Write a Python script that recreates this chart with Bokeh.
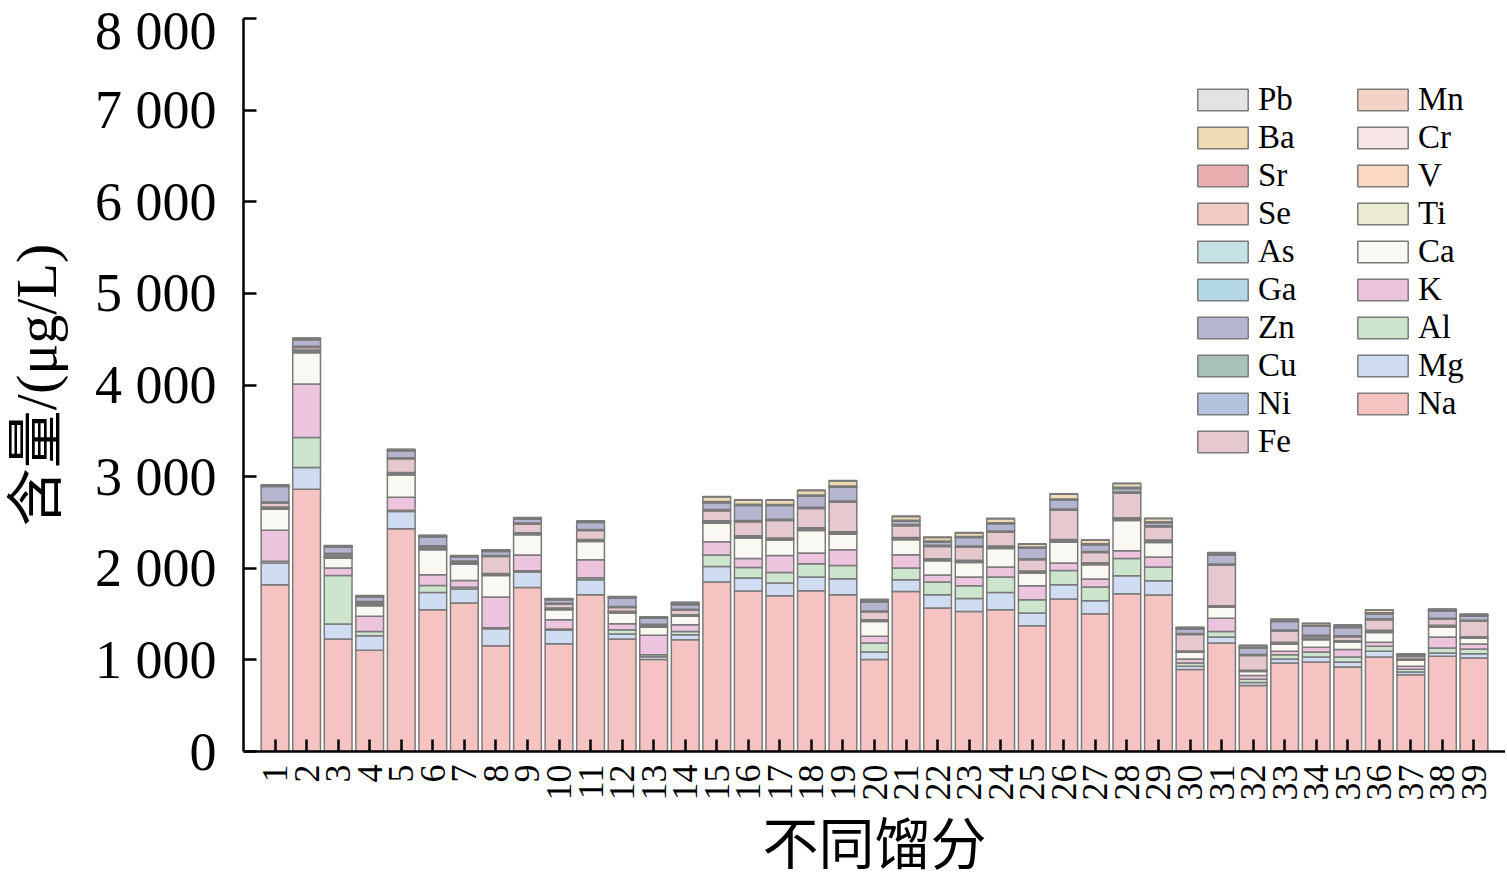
import math
from bokeh.plotting import figure
from bokeh.models import ColumnDataSource, FixedTicker, Legend, LegendItem
from bokeh.embed import file_html
from bokeh.resources import INLINE

labels = ["1","2","3","4","5","6","7","8","9","10","11","12","13","14","15","16","17","18","19","20",
          "21","22","23","24","25","26","27","28","29","30","31","32","33","34","35","36","37","38","39"]
x_pos = list(range(1, 40))

Na = [1820,2863,1228,1104,2430,1548,1620,1155,1791,1177,1711,1228,1003,1221,1849,1751,1700,1755,1711,1003,
      1747,1566,1529,1548,1373,1664,1504,1722,1708,894,1185,719,967,978,923,1032,839,1039,1021]
Mg = [237,236,164,160,189,188,153,185,167,145,164,55,30,54,171,142,139,149,175,83,
      128,145,142,188,139,156,142,196,156,36,65,35,43,54,55,61,30,36,47]
Al = [20,327,530,47,15,76,20,10,15,15,20,47,24,36,124,116,115,145,145,99,
      127,138,138,168,145,156,149,189,149,37,61,35,47,55,54,55,30,55,51]
K  = [339,585,80,164,142,117,74,336,171,102,198,65,211,73,145,98,186,117,171,72,
      145,77,95,109,152,81,87,84,109,43,142,40,36,50,80,43,31,120,55]
Ca = [229,341,109,116,243,273,179,236,221,109,199,117,91,91,203,222,167,246,170,163,
      164,156,159,203,139,229,156,330,159,72,120,43,81,84,79,109,65,109,61]
Ti = [5,6,4,4,6,5,4,5,5,4,5,4,3,4,6,6,6,7,6,4,
      6,5,5,6,5,6,5,7,6,3,4,3,3,4,4,4,3,4,4]
V  = [4,5,3,3,4,4,3,4,4,3,4,3,3,3,5,5,4,5,5,3,
      4,4,4,4,4,5,4,5,4,3,3,3,3,3,3,5,3,3,3]
Cr = [9,12,7,6,10,8,6,7,8,6,8,6,5,6,9,9,8,10,9,6,
      9,8,8,9,8,10,8,10,9,5,7,5,6,6,6,7,5,6,6]
Mn = [6,8,5,5,7,6,5,6,6,5,6,5,4,5,7,7,6,8,7,5,
      6,6,6,7,6,7,6,8,7,4,5,4,5,5,5,6,4,5,5]
Fe = [42,25,21,17,148,8,5,184,94,42,97,42,5,50,108,151,191,210,322,86,
      129,133,145,151,122,318,111,268,145,181,442,162,125,20,43,116,28,68,170]
Ni = [4,5,4,3,4,4,3,4,4,3,4,3,3,3,4,4,4,5,4,3,
      4,4,4,4,4,5,4,4,4,3,4,3,3,3,3,4,3,3,3]
Cu = [8,10,8,7,9,8,7,8,8,7,8,7,6,7,9,9,8,10,9,7,
      9,8,8,9,8,10,8,9,8,7,8,7,7,7,8,8,6,7,7]
Zn = [170,70,70,52,75,98,47,44,41,39,76,96,69,50,76,166,151,119,152,100,
      35,36,93,80,115,97,72,39,32,48,97,72,94,97,90,53,8,78,42]
Ga = [2,2,2,1,2,2,1,2,2,1,2,1,1,1,2,2,2,2,2,1,
      2,2,2,2,2,2,2,2,2,1,2,1,1,1,1,2,1,1,1]
As = [2,3,2,2,2,2,2,2,2,2,2,2,1,2,2,3,2,3,2,2,
      2,2,2,2,2,3,2,3,2,2,2,2,2,2,2,2,1,2,2]
Se = [3,3,2,2,3,3,2,3,3,2,3,2,2,2,3,3,3,3,3,2,
      3,3,3,3,3,3,3,3,3,2,3,2,2,2,2,3,2,2,2]
Sr = [4,5,4,3,4,4,3,4,4,3,4,3,3,3,5,5,4,5,5,3,
      4,4,4,4,4,5,4,5,4,3,4,3,3,3,3,4,3,3,3]
Ba = [3,3,3,3,3,3,3,3,3,3,3,3,3,15,50,44,46,49,54,15,
      40,39,39,43,32,50,40,40,35,10,15,18,14,22,18,29,3,11,15]
Pb = [4,5,3,3,4,4,3,4,4,3,4,3,3,3,5,5,5,5,5,4,
      5,4,4,5,4,5,4,5,4,3,4,3,3,3,3,4,3,3,3]

elements = ["Na","Mg","Al","K","Ca","Ti","V","Cr","Mn","Fe","Ni","Cu","Zn","Ga","As","Se","Sr","Ba","Pb"]
series = [Na, Mg, Al, K, Ca, Ti, V, Cr, Mn, Fe, Ni, Cu, Zn, Ga, As, Se, Sr, Ba, Pb]
colors = {
    "Pb": "#e3e3e3", "Ba": "#efdcb5", "Sr": "#e8aeb0", "Se": "#f2cbc2", "As": "#c6e3e3",
    "Ga": "#b4d8e6", "Zn": "#b6b5cf", "Cu": "#a8c2b8", "Ni": "#b3c3dd", "Fe": "#e6c9cf",
    "Mn": "#f2d3c5", "Cr": "#f8e6e6", "V": "#fbd9c0", "Ti": "#ececd3", "Ca": "#f9f8f2",
    "K": "#ecc4de", "Al": "#cde5cc", "Mg": "#cfdcf1", "Na": "#f6c3c3",
}
x_title = "不同馏分"
y_title = "含量/(μg/L)"

data = {"x": x_pos}
for name, vals in zip(elements, series):
    data[name] = vals
src = ColumnDataSource(data)

W, H = 1505, 878
FL, FT, FB = 243, 18, 752
p = figure(width=W, height=H, x_range=(0, 40), y_range=(0, 8000),
           output_backend="svg", toolbar_location=None,
           min_border_left=FL, min_border_right=0, min_border_top=FT, min_border_bottom=H - FB)
p.outline_line_color = None
p.grid.visible = False
p.background_fill_color = "white"

rs = p.vbar_stack(elements, x="x", width=0.88, source=src,
                  fill_color=[colors[e] for e in elements],
                  line_color="#7a7a7a", line_width=1.5)
rmap = dict(zip(elements, rs))

serif = "Liberation Serif"
cjk = "Liberation Serif, Noto Sans CJK SC"

# y axis
yt = [0, 1000, 2000, 3000, 4000, 5000, 6000, 7000, 8000]
p.yaxis.ticker = FixedTicker(ticks=yt)
p.yaxis.major_label_overrides = {v: ("0" if v == 0 else f"{v // 1000} 000") for v in yt}
p.yaxis.major_tick_in = 13
p.yaxis.major_tick_out = 0
p.yaxis.minor_tick_in = 0
p.yaxis.minor_tick_out = 0
p.yaxis.axis_line_width = 2.5
p.yaxis.major_tick_line_width = 2.5
p.yaxis.major_label_text_font = serif
p.yaxis.major_label_text_font_size = "54px"
p.yaxis.major_label_text_color = "black"
p.yaxis.major_label_standoff = 27
p.yaxis.axis_label = y_title
p.yaxis.axis_label_text_font = cjk
p.yaxis.axis_label_text_font_size = "58px"
p.yaxis.axis_label_text_font_style = "normal"
p.yaxis.axis_label_text_color = "black"
p.yaxis.axis_label_standoff = 23

# x axis
p.xaxis.ticker = FixedTicker(ticks=x_pos)
p.xaxis.major_label_overrides = {x: lab for x, lab in zip(x_pos, labels)}
p.xaxis.major_label_orientation = math.pi / 2
p.xaxis.major_tick_in = 12
p.xaxis.major_tick_out = 0
p.xaxis.minor_tick_in = 0
p.xaxis.minor_tick_out = 0
p.xaxis.axis_line_width = 2.5
p.xaxis.major_tick_line_width = 2.5
p.xaxis.major_label_text_font = serif
p.xaxis.major_label_text_font_size = "36px"
p.xaxis.major_label_text_color = "black"
p.xaxis.major_label_standoff = 13
p.xaxis.axis_label = x_title
p.xaxis.axis_label_text_font = cjk
p.xaxis.axis_label_text_font_size = "56px"
p.xaxis.axis_label_text_font_style = "normal"
p.xaxis.axis_label_text_color = "black"
p.xaxis.axis_label_standoff = 10

col1 = ["Pb", "Ba", "Sr", "Se", "As", "Ga", "Zn", "Cu", "Ni", "Fe"]
col2 = ["Mn", "Cr", "V", "Ti", "Ca", "K", "Al", "Mg", "Na"]

def make_legend(names, left, bottom_page):
    leg = Legend(items=[LegendItem(label=n, renderers=[rmap[n]]) for n in names],
                 location=(left - FL, FB - bottom_page), orientation="vertical")
    leg.padding = 0
    leg.margin = 0
    leg.spacing = 1
    leg.border_line_color = None
    leg.background_fill_alpha = 0
    leg.glyph_width = 63
    leg.glyph_height = 27
    leg.label_height = 20
    leg.label_standoff = 4
    leg.label_text_font = serif
    leg.label_text_font_size = "33px"
    leg.label_text_color = "black"
    return leg

p.add_layout(make_legend(col1, 1191, 461))
p.add_layout(make_legend(col2, 1351, 423))

open("out.html", "w").write(file_html(p, INLINE))
